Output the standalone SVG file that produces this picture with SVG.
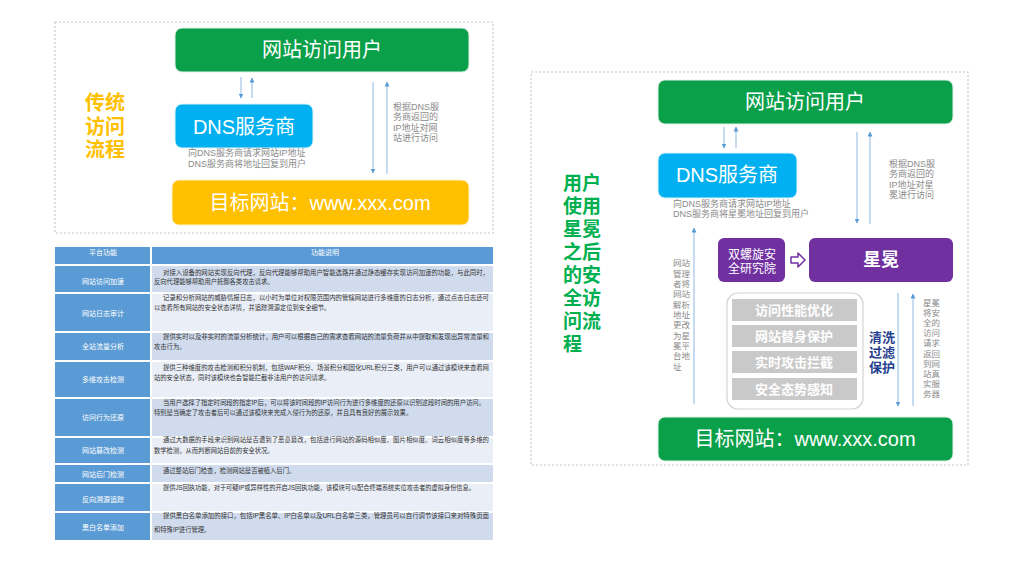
<svg xmlns="http://www.w3.org/2000/svg" width="1024" height="576" viewBox="0 0 1024 576">
<defs>
<marker id="ah" viewBox="0 0 10 10" refX="9" refY="5" markerWidth="5" markerHeight="5" orient="auto" markerUnits="userSpaceOnUse">
<path d="M0,0 L10,5 L0,10 z" fill="#5b9bd5"/>
</marker>
<style>
.f{font-family:"Liberation Sans","Noto Sans CJK SC",sans-serif}
.panel{fill:#fff;stroke:#c8c8c8;stroke-width:1.2;stroke-dasharray:2 2}
.bt{font-size:20px;fill:#fff;text-anchor:middle;dominant-baseline:central}
.cap{font-size:9px;fill:#8a8a8a}
.arr{stroke:#a8c6e8;stroke-width:1.3;fill:none;marker-end:url(#ah)}
.c1{fill:#5b9bd5}
.dk{fill:#d0dcee}
.lt{fill:#e9eef7}
.lab{font-size:7px;fill:#fff;text-anchor:middle;dominant-baseline:central}
.tx{font-size:6.3px;fill:#333}
.bar{fill:#c9c9c9}
.bart{font-size:13px;font-weight:bold;fill:#fff;text-anchor:middle;dominant-baseline:central}
.vt{font-size:8.5px;fill:#8a8a8a}
</style>
</defs>
<rect width="1024" height="576" fill="#fff"/>

<!-- Left panel -->
<rect class="panel" x="55" y="22" width="438" height="211"/>
<g id="left-title" class="f" font-size="20" font-weight="bold" fill="#ffc000" text-anchor="middle">
<text x="105" y="110">传统</text>
<text x="105" y="134">访问</text>
<text x="105" y="157">流程</text>
</g>
<g id="l-user">
<rect x="175" y="28" width="294" height="44" rx="7" fill="#0aa04a" stroke="#e4f0e8" stroke-width="1"/>
<text class="f bt" x="322" y="50">网站访问用户</text>
</g>
<g id="l-dns">
<rect x="175" y="104" width="138" height="44" rx="7" fill="#00b0f0" stroke="#e0f2fb" stroke-width="1"/>
<text class="f bt" x="244" y="127">DNS服务商</text>
<text class="f cap" x="188" y="156">向DNS服务商请求网站IP地址</text>
<text class="f cap" x="188" y="167">DNS服务商将地址回复到用户</text>
</g>
<g id="l-target">
<rect x="172" y="180" width="297" height="45" rx="7" fill="#ffc000" stroke="#fff3d0" stroke-width="1"/>
<text class="f bt" x="320" y="203">目标网站：www.xxx.com</text>
</g>
<g id="l-note" class="f cap">
<text x="393" y="110">根据DNS服</text>
<text x="393" y="120">务商返回的</text>
<text x="393" y="131">IP地址对网</text>
<text x="393" y="141">站进行访问</text>
</g>

<!-- Right panel -->
<rect class="panel" x="531" y="72" width="437" height="393"/>
<g id="right-title" class="f" font-size="19" font-weight="bold" fill="#00b050">
<text x="563" y="190">用户</text>
<text x="563" y="213">使用</text>
<text x="563" y="236">星冕</text>
<text x="563" y="259">之后</text>
<text x="563" y="282">的安</text>
<text x="563" y="305">全访</text>
<text x="563" y="328">问流</text>
<text x="563" y="351">程</text>
</g>
<g id="r-user">
<rect x="658" y="80" width="295" height="44" rx="7" fill="#0aa04a" stroke="#e4f0e8" stroke-width="1"/>
<text class="f bt" x="805" y="102">网站访问用户</text>
</g>
<g id="r-dns">
<rect x="658" y="153" width="139" height="45" rx="7" fill="#00b0f0" stroke="#e0f2fb" stroke-width="1"/>
<text class="f bt" x="727" y="175">DNS服务商</text>
<text class="f cap" x="673" y="207">向DNS服务商请求网站IP地址</text>
<text class="f cap" x="673" y="217">DNS服务商将星冕地址回复到用户</text>
</g>
<g id="r-lab">
<rect x="718" y="238" width="67" height="44" rx="6" fill="#7030a0"/>
<text class="f" x="752" y="259" font-size="12" fill="#fff" text-anchor="middle">双螺旋安</text>
<text class="f" x="752" y="273" font-size="12" fill="#fff" text-anchor="middle">全研究院</text>
</g>
<g id="r-xingmian">
<rect x="809" y="238" width="144" height="44" rx="6" fill="#7030a0"/>
<text class="f" x="881" y="260" font-size="18" font-weight="bold" fill="#fff" text-anchor="middle" dominant-baseline="central">星冕</text>
</g>
<g id="r-services">
<rect x="727" y="293" width="136" height="116" rx="11" fill="#fff" stroke="#d4d4d4" stroke-width="1.2"/>
<rect class="bar" x="732" y="299" width="125" height="22"/>
<rect class="bar" x="732" y="325" width="125" height="22"/>
<rect class="bar" x="732" y="351" width="125" height="22"/>
<rect class="bar" x="732" y="378" width="125" height="22"/>
<text class="f bart" x="794" y="310">访问性能优化</text>
<text class="f bart" x="794" y="336">网站替身保护</text>
<text class="f bart" x="794" y="362">实时攻击拦截</text>
<text class="f bart" x="794" y="389">安全态势感知</text>
</g>
<g id="r-clean" class="f" font-size="13" font-weight="bold" fill="#24408e">
<text x="869" y="342">清洗</text>
<text x="869" y="357">过滤</text>
<text x="869" y="372">保护</text>
</g>
<g id="r-target">
<rect x="658" y="417" width="295" height="44" rx="7" fill="#0aa04a" stroke="#e4f0e8" stroke-width="1"/>
<text class="f bt" x="805" y="439">目标网站：www.xxx.com</text>
</g>
<g id="r-note1" class="f cap">
<text x="889" y="167">根据DNS服</text>
<text x="889" y="177">务商返回的</text>
<text x="889" y="188">IP地址对星</text>
<text x="889" y="198">冕进行访问</text>
</g>
<g id="r-note2" class="f vt">
<text x="673" y="266">网站</text>
<text x="673" y="277">管理</text>
<text x="673" y="287">者将</text>
<text x="673" y="297">网站</text>
<text x="673" y="308">解析</text>
<text x="673" y="318">地址</text>
<text x="673" y="328">更改</text>
<text x="673" y="339">为星</text>
<text x="673" y="349">冕平</text>
<text x="673" y="359">台地</text>
<text x="673" y="370">址</text>
</g>
<g id="r-note3" class="f vt">
<text x="923" y="306">星冕</text>
<text x="923" y="316">将安</text>
<text x="923" y="326">全的</text>
<text x="923" y="336">访问</text>
<text x="923" y="346">请求</text>
<text x="923" y="357">返回</text>
<text x="923" y="367">到网</text>
<text x="923" y="377">站真</text>
<text x="923" y="387">实服</text>
<text x="923" y="397">务器</text>
</g>

<!-- Connectors -->
<g id="connectors">
<line class="arr" x1="241" y1="77" x2="241" y2="98"/>
<line class="arr" x1="252" y1="98" x2="252" y2="78"/>
<line class="arr" x1="373" y1="82" x2="373" y2="173"/>
<line class="arr" x1="387" y1="174" x2="387" y2="82"/>
<line class="arr" x1="724" y1="127" x2="724" y2="148"/>
<line class="arr" x1="736" y1="148" x2="736" y2="127"/>
<line class="arr" x1="857" y1="132" x2="857" y2="223"/>
<line class="arr" x1="870" y1="224" x2="870" y2="132"/>
<line class="arr" x1="694" y1="404" x2="694" y2="228"/>
<line class="arr" x1="898" y1="293" x2="898" y2="406"/>
<line class="arr" x1="913" y1="406" x2="913" y2="294"/>
<path d="M791,257 h7 v-4 l7,7 l-7,7 v-4 h-7 z" fill="#fff" stroke="#7030a0" stroke-width="1.5" stroke-linejoin="round"/>
</g>

<!-- Table -->
<g id="table" class="f">
<rect class="c1" x="55" y="247" width="95" height="17"/>
<rect class="c1" x="152" y="247" width="341" height="17"/>
<text class="lab" x="103" y="252">平台功能</text>
<text class="lab" x="325" y="252">功能说明</text>

<rect class="c1" x="55" y="266" width="95" height="26"/><rect class="dk" x="152" y="266" width="341" height="26"/>
<rect class="c1" x="55" y="294" width="95" height="37"/><rect class="lt" x="152" y="294" width="341" height="37"/>
<rect class="c1" x="55" y="333" width="95" height="27"/><rect class="dk" x="152" y="333" width="341" height="27"/>
<rect class="c1" x="55" y="362" width="95" height="35"/><rect class="lt" x="152" y="362" width="341" height="35"/>
<rect class="c1" x="55" y="399" width="95" height="37"/><rect class="dk" x="152" y="399" width="341" height="37"/>
<rect class="c1" x="55" y="438" width="95" height="25"/><rect class="lt" x="152" y="438" width="341" height="25"/>
<rect class="c1" x="55" y="465" width="95" height="17"/><rect class="dk" x="152" y="465" width="341" height="17"/>
<rect class="c1" x="55" y="484" width="95" height="27"/><rect class="lt" x="152" y="484" width="341" height="27"/>
<rect class="c1" x="55" y="513" width="95" height="27"/><rect class="dk" x="152" y="513" width="341" height="27"/>

<text class="lab" x="103" y="281">网站访问加速</text>
<text class="lab" x="103" y="313">网站日志审计</text>
<text class="lab" x="103" y="346">全站流量分析</text>
<text class="lab" x="103" y="379">多维攻击检测</text>
<text class="lab" x="103" y="417">访问行为还原</text>
<text class="lab" x="103" y="450">网站篡改检测</text>
<text class="lab" x="103" y="474">网站后门检测</text>
<text class="lab" x="103" y="499">反向溯源追踪</text>
<text class="lab" x="103" y="527">黑白名单添加</text>

<text class="tx" x="163" y="275" textLength="326" lengthAdjust="spacingAndGlyphs">对接入设备的网站实现反向代理，反向代理能够帮助用户智能选路并通过静态缓存实现访问加速的功能，与此同时，</text>
<text class="tx" x="154" y="284">反向代理能够帮助用户抵御各类攻击请求。</text>
<text class="tx" x="163" y="300" textLength="326" lengthAdjust="spacingAndGlyphs">记录和分析网站的威胁情报日志，以小时为单位对权限范围内的管辖网站进行多维度的日志分析，通过点击日志还可</text>
<text class="tx" x="154" y="310">以查看所有网站的安全状态详情，并追踪溯源定位到安全细节。</text>
<text class="tx" x="163" y="339" textLength="326" lengthAdjust="spacingAndGlyphs">提供实时以及非实时的流量分析统计，用户可以根据自己的需求查看网站的流量负荷并从中提取和发现出异常流量和</text>
<text class="tx" x="154" y="349">攻击行为。</text>
<text class="tx" x="163" y="370" textLength="326" lengthAdjust="spacingAndGlyphs">提供三种维度的攻击检测和积分机制，包括WAF积分、场景积分和固化URL积分三类，用户可以通过该模块来查看网</text>
<text class="tx" x="154" y="380">站的安全状态，同时该模块也会智能拦截非法用户的访问请求。</text>
<text class="tx" x="163" y="405" textLength="322" lengthAdjust="spacingAndGlyphs">当用户选择了指定时间段的指定IP后，可以将该时间段的IP访问行为进行多维度的还原以识别这段时间的用户访问。</text>
<text class="tx" x="154" y="415">特别是当确定了攻击者后可以通过该模块来完成入侵行为的还原，并且具有良好的展示效果。</text>
<text class="tx" x="163" y="442" textLength="326" lengthAdjust="spacingAndGlyphs">通过大数据的手段来识别网站是否遭到了恶意篡改，包括进行网站的源码相似度、图片相似度、词云相似度等多维的</text>
<text class="tx" x="154" y="453">数学检测，从而判断网站目前的安全状况。</text>
<text class="tx" x="163" y="473">通过整站后门检查，检测网站是否被植入后门。</text>
<text class="tx" x="163" y="490" textLength="312" lengthAdjust="spacingAndGlyphs">提供JS回执功能，对于可疑IP或异样性的开启JS回执功能，该模块可以配合终端系统实位攻击者的虚拟身份信息。</text>
<text class="tx" x="163" y="518" textLength="326" lengthAdjust="spacingAndGlyphs">提供黑白名单添加的接口，包括IP黑名单、IP白名单以及URL白名单三类，管理员可以自行调节该接口来对特殊页面</text>
<text class="tx" x="154" y="532">和特殊IP进行管理。</text>
</g>
</svg>
